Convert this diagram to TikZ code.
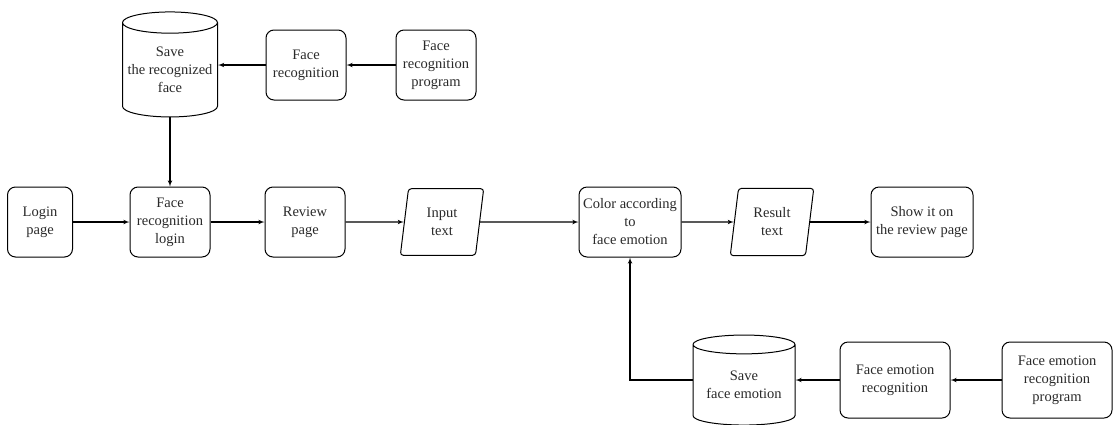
\documentclass[tikz,border=0pt]{standalone}
\usepackage{fontspec}
\setmainfont{Liberation Serif}
\usepackage{tikz}
\usetikzlibrary{arrows}
\usetikzlibrary{shapes.geometric}
\definecolor{textgray}{HTML}{2A2A2A}
\tikzstyle{every node}+=[inner sep=0pt]
\tikzstyle{block} = [rectangle, draw, line width=1pt, text=textgray, align=center, rounded corners=8pt, minimum width=80pt, minimum height=70pt, font=\fontsize{14.5}{18}\selectfont]
\tikzstyle{io} = [trapezium, trapezium left angle=83, trapezium right angle=97, draw, line width=1pt, rounded corners=3pt, text=textgray, align=center, text width=44pt, inner xsep=11.5pt, inner ysep=19.5pt, font=\fontsize{14.5}{18}\selectfont]
\tikzstyle{store} = [cylinder, shape border rotate=90, aspect=0.25, draw, line width=1pt, text=textgray, align=center, font=\fontsize{14.5}{18}\selectfont]
\tikzstyle{line} = [draw, line width=1.1pt, -latex']

\begin{document}
\begin{tikzpicture}[x=1pt, y=-1pt]
            \useasboundingbox (0,0) rectangle (1113,424);
            % Place nodes
            \node [block, minimum width=65pt] (login) at (40,222) {Login\\page};
            \node [block] (frlogin) at (170,222) {Face\\recognition\\login};
            \node [block] (review) at (305,222) {Review\\page};
            \node [io] (input) at (442,222) {Input\\text};
            \node [block, minimum width=102pt] (color) at (630,222) {Color according\\to\\face emotion};
            \node [io] (result) at (772,222) {Result\\text};
            \node [block, minimum width=102pt] (show) at (922,222) {Show it on\\the review page};
            \node [store, minimum width=95pt, minimum height=105pt] (saveface) at (170,70) {Save\\the recognized\\face};
            \node [block] (facerec) at (306,65) {Face\\recognition};
            \node [block] (facerecprog) at (436,65) {Face\\recognition\\program};
            \node [store, minimum width=102pt, minimum height=90pt] (saveemo) at (744,385) {Save\\face emotion};
            \node [block, minimum width=110pt, minimum height=76pt] (emorec) at (895,380) {Face emotion\\recognition};
            \node [block, minimum width=110pt, minimum height=76pt] (emorecprog) at (1057,380) {Face emotion\\recognition\\program};
            % Draw edges
            \path [line] (login) -- (frlogin);
            \path [line] (frlogin) -- (review);
            \path [line] (review) -- (input);
            \path [line] (input) -- (color);
            \path [line] (color) -- (result);
            \path [line] (result) -- (show);
            \path [line] (facerecprog) -- (facerec);
            \path [line] (facerec.west) -- (saveface.east |- facerec.west);
            \path [line] (saveface) -- (frlogin);
            \path [line] (emorecprog) -- (emorec);
            \path [line] (emorec.west) -- (saveemo.east |- emorec.west);
            \path [line] (saveemo.west |- emorec.west) -| (color.south);
\end{tikzpicture}
\end{document}
